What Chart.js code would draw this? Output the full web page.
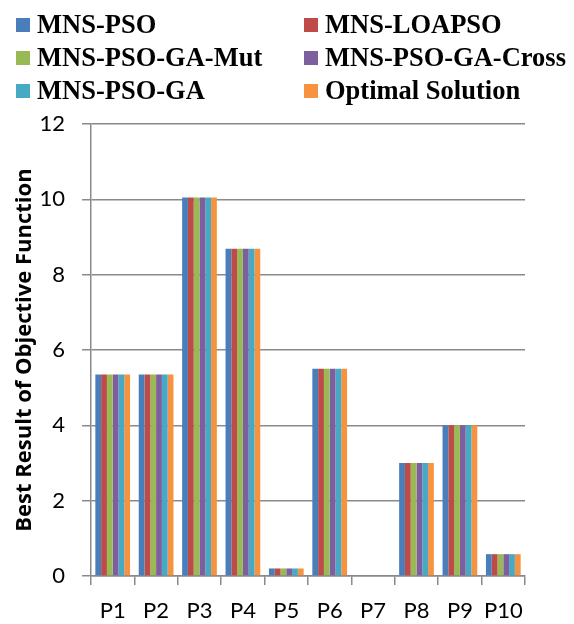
<!DOCTYPE html>
<html>
<head>
	<title>Best Result of Objective Function</title>
	<script src="https://cdn.jsdelivr.net/npm/chart.js"></script>
	<style>
		body {
			margin: 0;
			background: #fff;
		}
		#wrap {
			position: relative;
			width: 574px;
			height: 624px;
		}
		#myChart {
			position: absolute;
			left: 0;
			top: 0;
		}
		#legend {
			position: absolute;
			left: 0;
			top: 8px;
			width: 574px;
			font-family: "Liberation Serif", "Times New Roman", serif;
			font-weight: bold;
			font-size: 26.5px;
			color: #000;
		}
		.item {
			position: absolute;
			height: 33px;
			display: flex;
			align-items: center;
			white-space: nowrap;
		}
		.box {
			width: 14px;
			height: 14px;
			margin-right: 7px;
		}
	</style>
</head>
<body>
	<div id="wrap">
		<canvas id="myChart" width="574" height="624"></canvas>
		<div id="legend"></div>
	</div>
	<script>
		// problems on the x axis
		var problems = ['P1', 'P2', 'P3', 'P4', 'P5', 'P6', 'P7', 'P8', 'P9', 'P10'];

		// best result per method
		var mnsPso         = [5.35, 5.35, 10.05, 8.69, 0.2, 5.5, 0, 3.0, 4.0, 0.58];
		var mnsLoapso      = [5.35, 5.35, 10.05, 8.69, 0.2, 5.5, 0, 3.0, 4.0, 0.58];
		var mnsPsoGaMut    = [5.35, 5.35, 10.05, 8.69, 0.2, 5.5, 0, 3.0, 4.0, 0.58];
		var mnsPsoGaCross  = [5.35, 5.35, 10.05, 8.69, 0.2, 5.5, 0, 3.0, 4.0, 0.58];
		var mnsPsoGa       = [5.35, 5.35, 10.05, 8.69, 0.2, 5.5, 0, 3.0, 4.0, 0.58];
		var optimalSol     = [5.35, 5.35, 10.05, 8.69, 0.2, 5.5, 0, 3.0, 4.0, 0.58];

		var seriesNames = ['MNS-PSO', 'MNS-LOAPSO', 'MNS-PSO-GA-Mut', 'MNS-PSO-GA-Cross', 'MNS-PSO-GA', 'Optimal Solution'];
		var seriesData = [mnsPso, mnsLoapso, mnsPsoGaMut, mnsPsoGaCross, mnsPsoGa, optimalSol];
		var seriesColors = ['#4a7ebb', '#be4b48', '#98b954', '#7d5fa0', '#46aac5', '#f69240'];

		var yTicks = [0, 2, 4, 6, 8, 10, 12];

		var gridColor = '#8a8a8a';

		var datasets = [];
		for (var i = 0; i < seriesNames.length; i++) {
			datasets.push({
				label: seriesNames[i],
				data: seriesData[i],
				backgroundColor: seriesColors[i],
				borderWidth: 0,
				categoryPercentage: 0.8,
				barPercentage: 1.0
			});
		}

		var ctx = document.getElementById('myChart').getContext('2d');
		var chart = new Chart(ctx, {
			type: 'bar',
			data: {
				labels: problems,
				datasets: datasets
			},
			options: {
				responsive: false,
				animation: false,
				layout: {
					padding: { top: 124, right: 49, bottom: 0, left: 0 }
				},
				plugins: {
					legend: { display: false },
					tooltip: { enabled: false }
				},
				scales: {
					x: {
						afterFit: function(scale) { scale.height = 48; },
						grid: {
							drawOnChartArea: false,
							offset: true,
							tickLength: 9,
							color: gridColor,
							lineWidth: 1.5
						},
						border: { color: gridColor, width: 1.5 },
						ticks: {
							font: { family: 'Lato', size: 22 },
							color: '#000',
							padding: 13,
							maxRotation: 0
						}
					},
					y: {
						min: 0,
						max: 12,
						afterFit: function(scale) { scale.width = 91; },
						afterBuildTicks: function(scale) {
							scale.ticks = yTicks.map(function(v) { return { value: v }; });
						},
						grid: {
							tickLength: 9,
							color: gridColor,
							lineWidth: 1.5
						},
						border: { color: gridColor, width: 1.5 },
						ticks: {
							font: { family: 'Lato', size: 22 },
							color: '#000',
							padding: 17
						},
						title: {
							display: true,
							text: 'Best Result of Objective Function',
							font: { family: 'Open Sans', size: 22, weight: 'bold' },
							color: '#000',
							padding: { top: 12, bottom: 0 }
						}
					}
				}
			}
		});

		// two-column legend like the original
		var legendEl = document.getElementById('legend');
		chart.data.datasets.forEach(function(ds, i) {
			var item = document.createElement('div');
			item.className = 'item';
			item.style.left = (i % 2 === 0 ? 16 : 304) + 'px';
			item.style.top = (Math.floor(i / 2) * 33) + 'px';
			var box = document.createElement('span');
			box.className = 'box';
			box.style.background = ds.backgroundColor;
			var txt = document.createElement('span');
			txt.textContent = ds.label;
			item.appendChild(box);
			item.appendChild(txt);
			legendEl.appendChild(item);
		});
	</script>
</body>
</html>
